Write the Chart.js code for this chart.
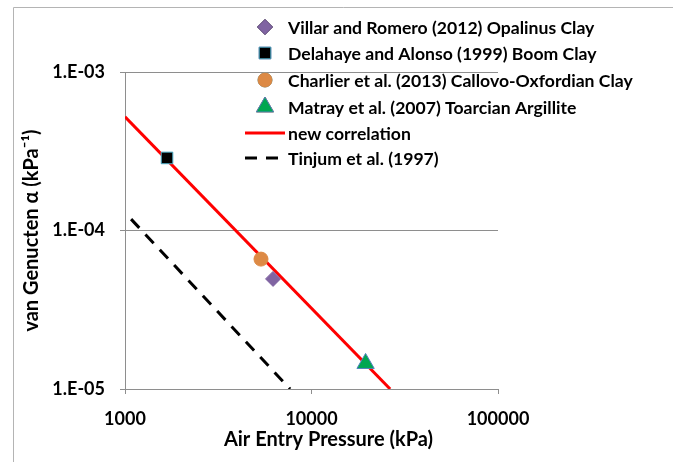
<!DOCTYPE html>
<html>
<head>
<meta charset="utf-8">
<script src="https://cdn.jsdelivr.net/npm/chart.js@4"></script>
<style>
  html, body { margin: 0; padding: 0; background: #fff; overflow: hidden; }
  canvas { display: block; }
</style>
</head>
<body>
<canvas id="chartAlpha" width="673" height="462"></canvas>
<script>
// measured points: [air entry pressure kPa, van Genuchten alpha 1/kPa]
const villarPts = [[6220, 4.95e-5]];
const delahayePts = [[1680, 2.87e-4]];
const charlierPts = [[5360, 6.6e-5]];
const matrayPts = [[19500, 1.45e-5]];

// correlation lines (end points)
const newCorrPts = [[1000, 5.22e-4], [26400, 1.0e-5]];
const tinjumPts = [[1078, 1.18e-4], [7680, 1.0e-5]];

const xTicks = [1000, 10000, 100000];
const xTickLabels = ["1000", "10000", "100000"];
const yTicks = [1e-5, 1e-4, 1e-3];
const yTickLabels = ["1.E-05", "1.E-04", "1.E-03"];

const legendNames = [
  "Villar and Romero (2012) Opalinus Clay",
  "Delahaye and Alonso (1999) Boom Clay",
  "Charlier et al. (2013) Callovo-Oxfordian Clay",
  "Matray et al. (2007) Toarcian Argillite",
  "new correlation",
  "Tinjum et al. (1997)",
];
const xTitle = "Air Entry Pressure (kPa)";

const toXY = (pts) => pts.map((p) => ({ x: p[0], y: p[1] }));
const FONT = "Lato, 'Open Sans', sans-serif";
const GRID = "#8e8e8e";

// legend, x title and outer frame drawn by hand
const sheetPlugin = {
  id: "sheet",
  beforeDraw(chart) {
    const ctx = chart.ctx;
    ctx.save();
    ctx.strokeStyle = "#b4b4b4";
    ctx.lineWidth = 1;
    ctx.beginPath();
    ctx.moveTo(13.5, 462);
    ctx.lineTo(13.5, 7.5);
    ctx.lineTo(673, 7.5);
    ctx.stroke();
    ctx.restore();
  },
  afterDraw(chart) {
    const ctx = chart.ctx;
    const area = chart.chartArea;
    ctx.save();
    // x axis title sits a little right of the plot centre
    ctx.font = "bold 20px " + FONT;
    ctx.textAlign = "center";
    ctx.textBaseline = "middle";
    ctx.fillStyle = "#000";
    ctx.fillText(xTitle, (area.left + area.right) / 2 + 17, 440);

    const rowY = [27, 53, 80, 107, 133, 158];
    ctx.font = "bold 17.6px " + FONT;
    ctx.textAlign = "left";
    chart.data.datasets.forEach((ds, i) => {
      const y = rowY[i];
      if (ds.showLine) {
        ctx.save();
        ctx.strokeStyle = ds.borderColor;
        ctx.lineWidth = ds.borderWidth;
        ctx.setLineDash(ds.borderDash || []);
        ctx.beginPath();
        ctx.moveTo(245, y);
        ctx.lineTo(285, y);
        ctx.stroke();
        ctx.restore();
      } else {
        Chart.helpers.drawPoint(ctx, {
          pointStyle: ds.pointStyle,
          radius: ds.pointRadius,
          borderWidth: ds.borderWidth,
          rotation: 0,
        }, 265, y);
        ctx.fillStyle = ds.backgroundColor;
        ctx.strokeStyle = ds.borderColor;
        ctx.lineWidth = ds.borderWidth;
        ctx.fill();
        ctx.stroke();
        ctx.fillStyle = "#000";
      }
      ctx.fillText(ds.label, 288, y + 1);
    });
    ctx.restore();
  },
};

function markerSet(label, pts, style, radius, fill, border) {
  return {
    label: label,
    data: toXY(pts),
    showLine: false,
    pointStyle: style,
    pointRadius: radius,
    pointHoverRadius: radius,
    backgroundColor: fill,
    borderColor: border,
    borderWidth: 1,
  };
}

function lineSet(label, pts, color, dash) {
  return {
    label: label,
    data: toXY(pts),
    showLine: true,
    pointRadius: 0,
    borderColor: color,
    backgroundColor: color,
    borderWidth: 3,
    borderDash: dash,
    borderCapStyle: "butt",
  };
}

const ctx = document.getElementById("chartAlpha").getContext("2d");
const chartAlpha = new Chart(ctx, {
  type: "scatter",
  data: {
    datasets: [
      markerSet(legendNames[0], villarPts, "rectRot", 7.5, "#8064a2", "#8064a2"),
      markerSet(legendNames[1], delahayePts, "rect", 8.2, "#000000", "#4bacc6"),
      markerSet(legendNames[2], charlierPts, "circle", 7, "#dd8a45", "#dd8a45"),
      markerSet(legendNames[3], matrayPts, "triangle", 10, "#00a650", "#4f81bd"),
      lineSet(legendNames[4], newCorrPts, "#ff0000", []),
      lineSet(legendNames[5], tinjumPts, "#000000", [12, 9]),
    ],
  },
  options: {
    responsive: false,
    devicePixelRatio: 1,
    animation: false,
    events: [],
    layout: { padding: { top: 72, right: 175, left: 0, bottom: 0 } },
    plugins: {
      legend: { display: false },
      tooltip: { enabled: false },
    },
    scales: {
      x: {
        type: "logarithmic",
        min: 1000,
        max: 100000,
        afterBuildTicks: (scale) => {
          scale.ticks = xTicks.map((v) => ({ value: v }));
        },
        afterFit: (scale) => {
          scale.height = 73;
        },
        ticks: {
          color: "#000",
          font: { family: FONT, size: 18, weight: "bold" },
          padding: 14,
          maxRotation: 0,
          callback: (value, index) => xTickLabels[index],
        },
        grid: { drawOnChartArea: false, tickLength: 5, color: GRID },
        border: { color: GRID, width: 1 },
      },
      y: {
        type: "logarithmic",
        min: 1e-5,
        max: 1e-3,
        afterBuildTicks: (scale) => {
          scale.ticks = yTicks.map((v) => ({ value: v }));
        },
        afterFit: (scale) => {
          scale.width = 125;
        },
        ticks: {
          color: "#000",
          font: { family: FONT, size: 18, weight: "bold" },
          padding: 15,
          callback: (value, index) => yTickLabels[index],
        },
        grid: { color: GRID, tickLength: 5 },
        border: { color: GRID, width: 1 },
        title: {
          display: true,
          text: "van Genucten α (kPa⁻¹)",
          color: "#000",
          font: { family: FONT, size: 20, weight: "bold" },
          padding: { top: 20, bottom: 0 },
        },
      },
    },
  },
  plugins: [sheetPlugin],
});
</script>
</body>
</html>
